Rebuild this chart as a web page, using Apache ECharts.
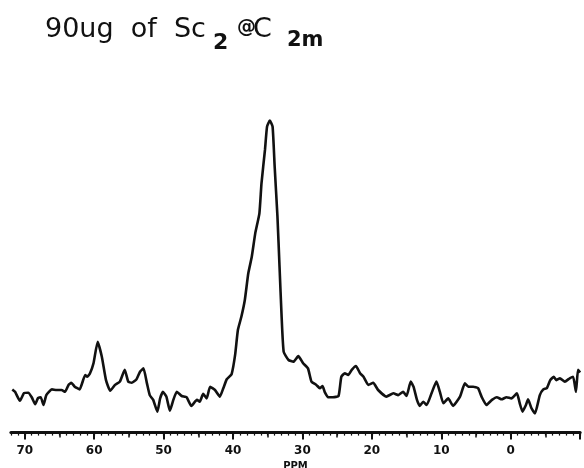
<!DOCTYPE html>
<html style="height: 100%">
<head>
    <meta charset="utf-8">
</head>
<body style="height: 100%; margin: 0; background: #fff">
<div id="container" style="width: 584px; height: 468px"></div>
<script type="text/javascript" src="https://cdn.jsdelivr.net/npm/echarts@6/dist/echarts.min.js"></script>
<script type="text/javascript">
// chemical shift (ppm) and signal intensity (arbitrary units)
var ppm = [71.8, 71.4, 70.7, 70.1, 69.5, 69.0, 68.5, 68.1, 67.7, 67.3, 66.9, 66.1, 65.4, 64.7, 64.2, 63.7, 63.3, 62.8, 62.1, 61.3,
    61.0, 60.6, 60.1, 59.5, 58.9, 58.3, 57.7, 57.0, 56.3, 55.6, 55.1, 54.6, 53.9, 53.4, 52.9, 52.4, 52.0, 51.5, 50.9, 50.5,
    50.1, 49.6, 49.1, 48.6, 48.1, 47.4, 46.7, 46.0, 45.2, 44.8, 44.3, 43.8, 43.3, 42.6, 41.9, 41.4, 40.9, 40.6, 40.2, 39.7,
    39.3, 38.8, 38.3, 37.8, 37.3, 36.8, 36.2, 35.9, 35.4, 35.1, 34.7, 34.3, 34.0, 33.6, 33.3, 33.0, 32.7, 32.0, 31.3, 30.6,
    29.9, 29.2, 28.7, 28.0, 27.5, 27.1, 26.8, 26.3, 25.6, 24.8, 24.4, 23.9, 23.4, 22.9, 22.3, 21.7, 21.2, 20.5, 19.8, 19.1,
    17.9, 16.9, 16.2, 15.5, 15.0, 14.4, 14.0, 13.5, 13.1, 12.6, 12.1, 11.4, 10.7, 10.2, 9.7, 9.0, 8.3, 7.3, 6.6, 6.1,
    5.4, 4.7, 4.2, 3.5, 2.7, 2.0, 1.3, 0.6, -0.1, -0.9, -1.3, -1.7, -2.2, -2.5, -3.0, -3.5, -4.2, -4.7, -5.2, -5.7,
    -6.2, -6.6, -7.1, -7.8, -8.5, -9.0, -9.4, -9.7, -10.0];
var intensity = [10.2, 9.4, 6.4, 9.0, 9.1, 7.6, 5.3, 7.3, 7.6, 5.0, 8.3, 10.2, 10.0, 10.0, 9.4, 11.7, 12.4, 11.1, 10.2, 15.0,
    14.4, 15.6, 18.9, 26.1, 21.1, 13.3, 9.8, 11.7, 12.8, 16.7, 12.8, 12.4, 13.6, 16.1, 17.2, 12.2, 8.3, 6.7, 2.8, 7.2,
    9.4, 7.8, 3.1, 6.7, 9.4, 8.0, 7.6, 4.7, 6.7, 6.1, 8.7, 7.2, 11.1, 10.0, 7.8, 10.6, 13.6, 14.3, 15.3, 21.7,
    30.0, 34.4, 40.0, 48.9, 54.4, 62.2, 68.9, 78.9, 90.0, 97.8, 99.8, 97.8, 84.4, 67.8, 51.1, 34.4, 22.7, 20.0, 19.4, 21.3,
    18.9, 17.2, 12.8, 11.7, 10.6, 11.3, 9.4, 7.6, 7.6, 8.0, 14.4, 15.6, 15.0, 16.7, 18.0, 15.6, 14.4, 11.7, 12.4, 10.0,
    7.8, 8.9, 8.3, 9.4, 8.0, 12.8, 11.1, 6.7, 4.7, 6.1, 5.0, 8.9, 12.8, 9.4, 5.6, 7.2, 4.7, 7.8, 12.2, 11.1,
    11.1, 10.6, 7.8, 5.0, 6.7, 7.6, 6.9, 7.6, 7.2, 8.9, 5.6, 2.8, 5.0, 6.9, 3.9, 2.2, 8.3, 10.2, 10.6, 13.3,
    14.4, 13.3, 13.9, 12.8, 13.9, 14.4, 9.4, 16.7, 15.8];

var majorTicks = [-10, 0, 10, 20, 30, 40, 50, 60, 70];
var tickLabels = [0, 10, 20, 30, 40, 50, 60, 70];
var midTicks = [-5, 5, 15, 25, 35, 45, 55, 65];

var minorTicks = [];
for (var t = -10; t <= 72; t++) {
    minorTicks.push(t);
}

var spectrum = ppm.map(function (p, i) {
    return [p, intensity[i]];
});

var dom = document.getElementById('container');
var myChart = echarts.init(dom, null, { renderer: 'canvas' });

var titleFont = 'DejaVu Sans';

var option = {
    animation: false,
    backgroundColor: '#fff',
    grid: {
        left: 10.9,
        right: 3.9,
        top: 120,
        bottom: 35.4,
        containLabel: false,
        outerBoundsMode: 'none'
    },
    graphic: [
        { type: 'text', left: 45, top: 16, style: { text: '90ug  of  Sc', fill: '#111', font: 'normal 27px ' + titleFont } },
        { type: 'text', left: 213, top: 32, style: { text: '2', fill: '#111', font: 'bold 22px ' + titleFont } },
        { type: 'text', left: 237, top: 19, style: { text: '@', fill: '#111', font: 'bold 19px ' + titleFont } },
        { type: 'text', left: 253, top: 16, style: { text: 'C', fill: '#111', font: 'normal 27px ' + titleFont } },
        { type: 'text', left: 287, top: 30, style: { text: '2m', fill: '#111', font: 'bold 21px ' + titleFont } }
    ],
    xAxis: [
        {
            type: 'value',
            position: 'bottom',
            inverse: true,
            min: -10,
            max: 72,
            name: 'PPM',
            nameLocation: 'middle',
            nameGap: 24,
            nameTextStyle: {
                color: '#111',
                fontSize: 10,
                fontWeight: 'bold',
                fontFamily: 'DejaVu Sans'
            },
            splitLine: { show: false },
            axisLine: {
                onZero: false,
                lineStyle: { color: '#111', width: 3 }
            },
            axisTick: {
                customValues: majorTicks,
                length: 7,
                lineStyle: { color: '#111', width: 2 }
            },
            axisLabel: {
                customValues: tickLabels,
                margin: 12,
                color: '#111',
                fontSize: 12,
                fontWeight: 'bold',
                fontFamily: 'DejaVu Sans'
            }
        },
        {
            type: 'value',
            position: 'bottom',
            inverse: true,
            min: -10,
            max: 72,
            splitLine: { show: false },
            axisLine: { show: false, onZero: false },
            axisLabel: { show: false },
            axisTick: {
                customValues: midTicks,
                length: 5,
                lineStyle: { color: '#111', width: 1.5 }
            }
        },
        {
            type: 'value',
            position: 'bottom',
            inverse: true,
            min: -10,
            max: 72,
            splitLine: { show: false },
            axisLine: { show: false, onZero: false },
            axisLabel: { show: false },
            axisTick: {
                customValues: minorTicks,
                length: 3,
                lineStyle: { color: '#111', width: 1.2 }
            }
        }
    ],
    yAxis: {
        type: 'value',
        min: -4.2,
        max: 100,
        show: false
    },
    series: [
        {
            type: 'line',
            xAxisIndex: 0,
            data: spectrum,
            showSymbol: false,
            smooth: 0.15,
            clip: false,
            lineStyle: { color: '#111', width: 2.6 }
        }
    ]
};

myChart.setOption(option);
</script>
</body>
</html>
